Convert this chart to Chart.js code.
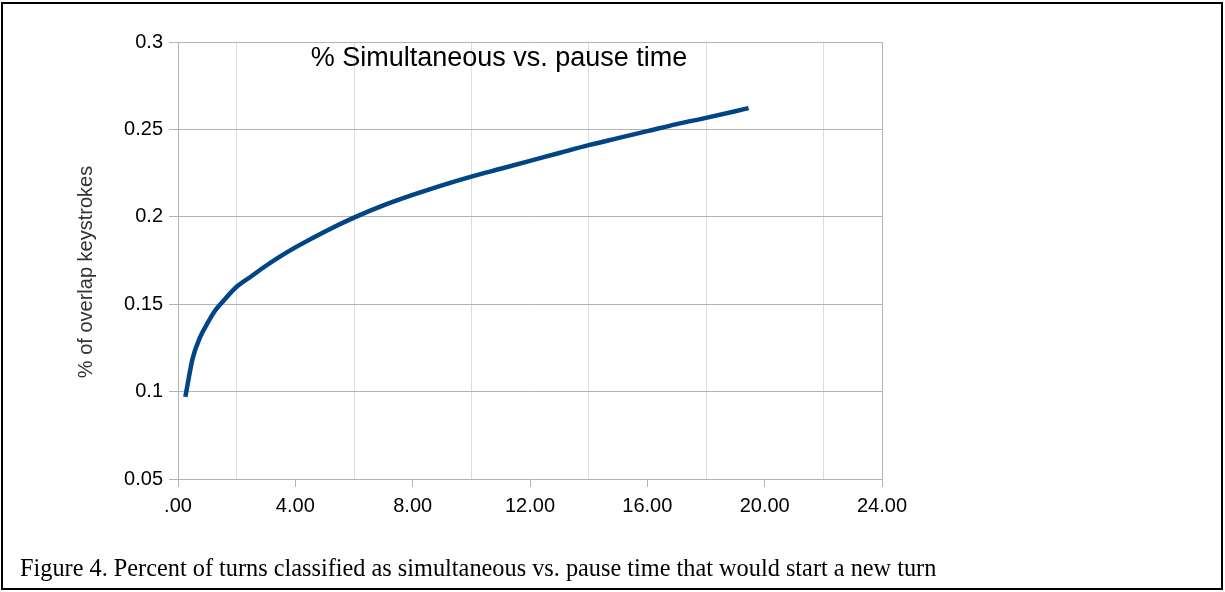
<!DOCTYPE html>
<html>
<head>
<meta charset="utf-8">
<script src="https://cdn.jsdelivr.net/npm/chart.js@4/dist/chart.umd.min.js"></script>
<style>
  html, body { margin: 0; padding: 0; background: #fff; }
  #wrap { position: relative; width: 1225px; height: 592px; overflow: hidden; }
  #frame { position: absolute; left: 1px; top: 2px; width: 1222px; height: 588px; border: 2px solid #000; box-sizing: border-box; }
  #c { position: absolute; left: 0; top: 0; }
  #caption { position: absolute; left: 20px; top: 554px; font-family: "Liberation Serif", "Times New Roman", serif; font-size: 24.3px; color: #000; white-space: nowrap; }
</style>
</head>
<body>
<div id="wrap">
  <div id="frame"></div>
  <canvas id="c" width="1225" height="592"></canvas>
  <div id="caption">Figure 4. Percent of turns classified as simultaneous vs. pause time that would start a new turn</div>
</div>
<script>
const chartTitle = "% Simultaneous vs. pause time";
const yAxisTitle = "% of overlap keystrokes";
const pauseTime = [0.25, 0.5, 0.75, 1, 1.25, 1.5, 2, 2.5, 3, 3.5, 4, 5, 6, 7, 8, 9, 10, 11, 12, 13, 14, 15, 16, 17, 18, 19, 19.45];
const pctSimultaneous = [0.097, 0.119, 0.131, 0.139, 0.146, 0.151, 0.160, 0.166, 0.172, 0.1775, 0.1825, 0.1915, 0.1995, 0.2065, 0.2125, 0.218, 0.223, 0.2275, 0.232, 0.2365, 0.241, 0.245, 0.249, 0.253, 0.2566, 0.2604, 0.2622];
const xTickValues = [0, 4, 8, 12, 16, 20, 24];
const xTickLabels = [".00", "4.00", "8.00", "12.00", "16.00", "20.00", "24.00"];
const yTickValues = [0.05, 0.1, 0.15, 0.2, 0.25, 0.3];
const yTickLabels = ["0.05", "0.1", "0.15", "0.2", "0.25", "0.3"];

const points = pauseTime.map((x, i) => ({ x: x, y: pctSimultaneous[i] }));

function xLabelFor(v) {
  const i = xTickValues.findIndex(t => Math.abs(t - v) < 1e-6);
  return i >= 0 ? xTickLabels[i] : '';
}
function yLabelFor(v) {
  const i = yTickValues.findIndex(t => Math.abs(t - v) < 1e-6);
  return i >= 0 ? yTickLabels[i] : '';
}
function isMajorX(v) { return Math.abs(v / 4 - Math.round(v / 4)) < 1e-6; }

const textPlugin = {
  id: 'texts',
  afterDraw(chart) {
    const ctx = chart.ctx;
    ctx.save();
    ctx.fillStyle = '#000';
    ctx.font = '27px "Liberation Sans", Arial, sans-serif';
    ctx.textAlign = 'center';
    ctx.textBaseline = 'alphabetic';
    ctx.fillText(chartTitle, 499, 66);
    ctx.translate(86, 272);
    ctx.rotate(-Math.PI / 2);
    ctx.fillStyle = '#333';
    ctx.font = '20px "Liberation Sans", Arial, sans-serif';
    ctx.textBaseline = 'middle';
    ctx.fillText(yAxisTitle, 0, 0);
    ctx.restore();
  }
};

new Chart(document.getElementById('c'), {
  type: 'line',
  data: {
    datasets: [{
      data: points,
      borderColor: '#004586',
      borderWidth: 4.5,
      pointRadius: 0,
      fill: false,
      cubicInterpolationMode: 'monotone'
    }]
  },
  options: {
    responsive: false,
    animation: false,
    layout: { padding: { left: 0, right: 343, top: 42, bottom: 0 } },
    plugins: { legend: { display: false }, tooltip: { enabled: false }, title: { display: false } },
    scales: {
      x: {
        type: 'linear',
        min: 0, max: 24,
        afterFit(scale) { scale.height = 113; },
        border: { color: '#b3b3b3', width: 1 },
        grid: {
          color: ctx => {
            const v = ctx.tick.value;
            if (v === 24) return '#b3b3b3';
            return isMajorX(v) ? 'rgba(0,0,0,0)' : '#dddddd';
          },
          tickColor: ctx => isMajorX(ctx.tick.value) ? '#b3b3b3' : 'rgba(0,0,0,0)',
          tickLength: 8,
          lineWidth: 1
        },
        ticks: {
          stepSize: 2,
          autoSkip: false,
          maxRotation: 0,
          padding: 7,
          color: '#000',
          font: { family: '"Liberation Sans", Arial, sans-serif', size: 20 },
          callback: v => xLabelFor(v)
        }
      },
      y: {
        min: 0.05, max: 0.3,
        afterFit(scale) { scale.width = 178; },
        border: { color: '#b3b3b3', width: 1 },
        grid: { color: '#b3b3b3', tickColor: '#b3b3b3', tickLength: 9, lineWidth: 1 },
        ticks: {
          stepSize: 0.05,
          padding: 6,
          color: '#000',
          font: { family: '"Liberation Sans", Arial, sans-serif', size: 20 },
          callback: v => yLabelFor(v)
        }
      }
    }
  },
  plugins: [textPlugin]
});
</script>
</body>
</html>
